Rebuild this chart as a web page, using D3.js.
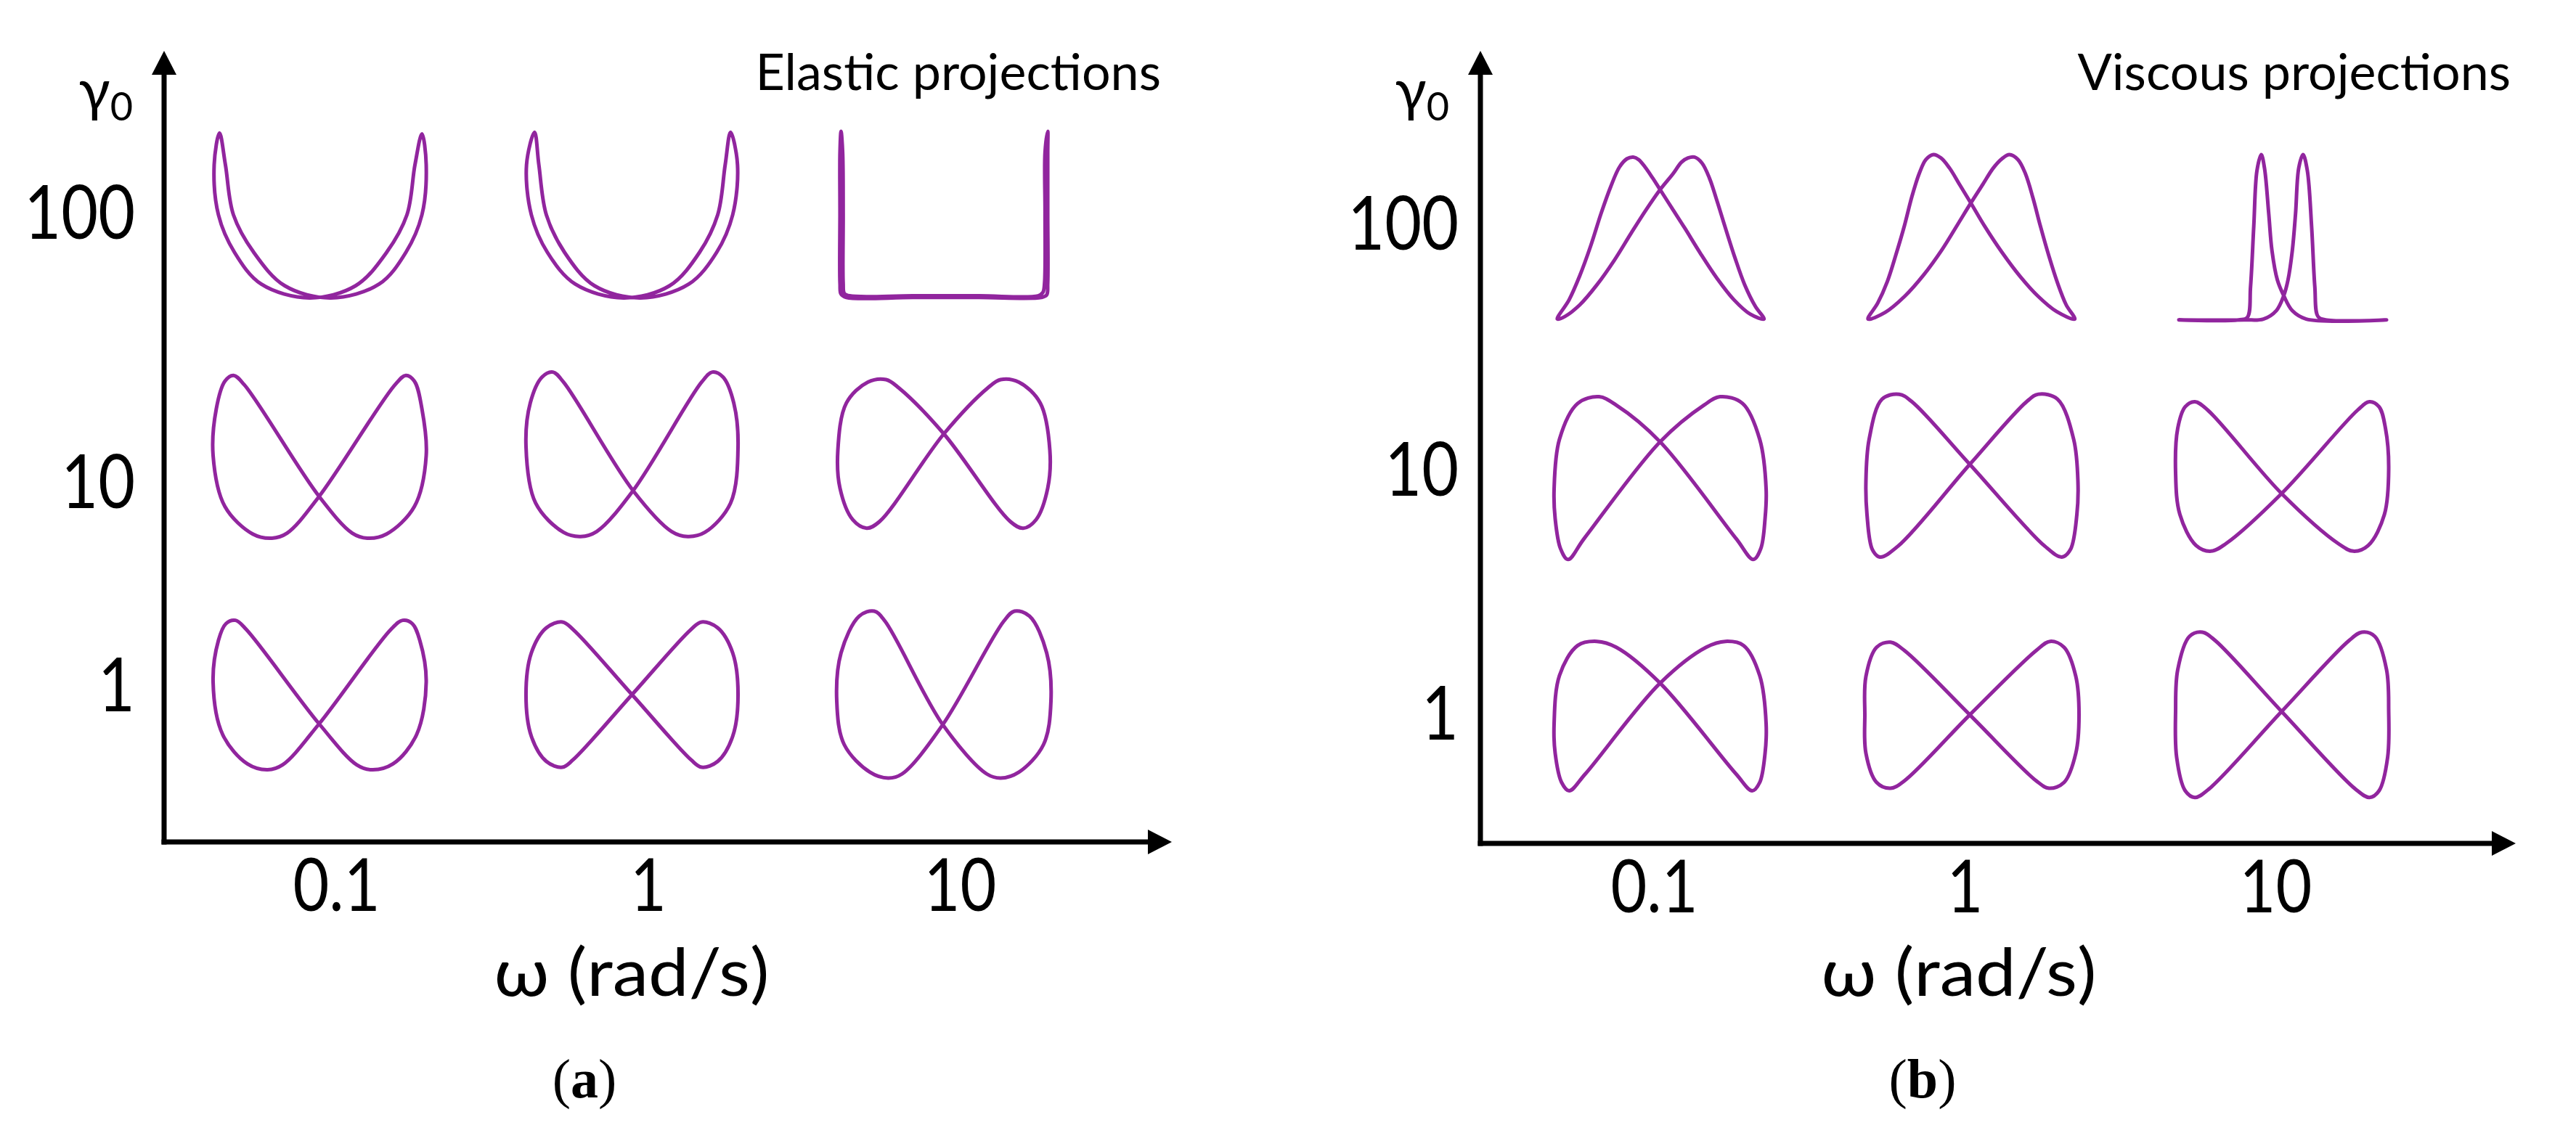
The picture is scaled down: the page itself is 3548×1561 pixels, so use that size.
<!DOCTYPE html>
<html>
<head>
<meta charset="utf-8">
<script src="https://cdn.jsdelivr.net/npm/d3@7"></script>
<style>
  html, body { margin: 0; padding: 0; background: #ffffff; }
  svg { display: block; }
</style>
</head>
<body>
<svg id="chart" width="3548" height="1561"></svg>
<script>
// ---------- categories / tick labels ----------
const omegaCats = ["0.1", "1", "10"];      // ω (rad/s)
const gammaCats = ["100", "10", "1"];      // γ0 (top to bottom)
const panelTitles = ["Elastic projections", "Viscous projections"];
const panelTags = ["a", "b"];
const xAxisTitle = "ω (rad/s)";

// ---------- curve data: normalized strain (x) vs stress (y), each in [-1, 1] ----------
// Elastic projections
const elastic_g100_w01 = [[-0.94,0.98],[-0.99,0.60],[-0.95,0.00],[-0.80,-0.45],[-0.55,-0.83],[-0.10,-0.995],[0.33,-0.85],[0.62,-0.45],[0.81,0.00],[0.885,0.60],[0.95,0.97],[0.99,0.60],[0.95,0.00],[0.80,-0.45],[0.55,-0.83],[0.10,-0.995],[-0.33,-0.85],[-0.62,-0.45],[-0.81,0.00],[-0.885,0.60]];
const elastic_g100_w1 = [[-0.91,0.99],[-0.985,0.60],[-0.94,0.00],[-0.79,-0.45],[-0.53,-0.83],[-0.08,-0.995],[0.35,-0.85],[0.63,-0.45],[0.80,0.00],[0.87,0.60],[0.92,0.99],[0.985,0.60],[0.94,0.00],[0.79,-0.45],[0.53,-0.83],[0.08,-0.995],[-0.35,-0.85],[-0.63,-0.45],[-0.80,0.00],[-0.87,0.60]];
const elastic_g100_w10 = [[-0.96,1.00],[-0.97,0.75],[-0.97,0.02],[-0.97,-0.82],[-0.96,-0.95],[-0.91,-0.99],[-0.29,-0.99],[0.33,-0.99],[0.91,-0.99],[0.96,-0.96],[0.97,-0.82],[0.97,0.02],[0.97,0.75],[0.97,1.00],[0.945,0.75],[0.945,0.02],[0.94,-0.82],[0.925,-0.93],[0.88,-0.97],[0.33,-0.97],[-0.29,-0.97],[-0.88,-0.97],[-0.93,-0.94],[-0.94,-0.82],[-0.94,0.02],[-0.945,0.75]];
const elastic_g10_w01 = [[-0.81,0.95],[-0.71,0.84],[-0.01,-0.50],[0.30,-0.94],[0.44,-1.00],[0.62,-0.95],[0.88,-0.62],[0.99,-0.01],[0.95,0.55],[0.88,0.88],[0.80,0.95],[0.70,0.84],[-0.01,-0.50],[-0.31,-0.94],[-0.45,-1.00],[-0.63,-0.95],[-0.89,-0.62],[-1.00,-0.01],[-0.97,0.55],[-0.89,0.88]];
const elastic_g10_w1 = [[-0.74,0.99],[-0.64,0.87],[0.01,-0.43],[0.37,-0.92],[0.52,-0.98],[0.68,-0.93],[0.92,-0.58],[0.99,0.10],[0.95,0.62],[0.85,0.93],[0.75,0.99],[0.65,0.87],[0.01,-0.43],[-0.33,-0.92],[-0.48,-0.98],[-0.64,-0.93],[-0.90,-0.58],[-0.99,0.10],[-0.95,0.62],[-0.84,0.93]];
const elastic_g10_w10 = [[-0.54,0.90],[-0.42,0.80],[0.00,0.25],[0.62,-0.80],[0.74,-0.88],[0.86,-0.78],[0.97,-0.40],[0.99,0.05],[0.90,0.62],[0.70,0.87],[0.53,0.90],[0.41,0.80],[0.00,0.25],[-0.60,-0.80],[-0.72,-0.88],[-0.85,-0.78],[-0.97,-0.40],[-0.99,0.05],[-0.91,0.62],[-0.71,0.87]];
const elastic_g1_w01 = [[-0.79,0.89],[-0.69,0.78],[-0.01,-0.35],[0.34,-0.84],[0.48,-0.90],[0.68,-0.83],[0.90,-0.48],[0.99,0.15],[0.93,0.65],[0.86,0.85],[0.77,0.89],[0.66,0.78],[-0.01,-0.35],[-0.35,-0.84],[-0.49,-0.90],[-0.68,-0.83],[-0.91,-0.48],[-1.00,0.15],[-0.95,0.65],[-0.88,0.85]];
const elastic_g1_w1 = [[-0.65,0.87],[-0.55,0.78],[0.00,0.00],[0.55,-0.78],[0.65,-0.87],[0.80,-0.80],[0.94,-0.50],[0.99,0.00],[0.94,0.50],[0.80,0.80],[0.65,0.87],[0.55,0.78],[0.00,0.00],[-0.55,-0.78],[-0.65,-0.87],[-0.80,-0.80],[-0.94,-0.50],[-0.99,0.00],[-0.94,0.50],[-0.80,0.80]];
const elastic_g1_w10 = [[-0.65,1.00],[-0.55,0.88],[-0.01,-0.36],[0.40,-0.95],[0.53,-1.00],[0.70,-0.93],[0.93,-0.60],[1.00,-0.08],[0.96,0.50],[0.80,0.94],[0.66,1.00],[0.56,0.88],[-0.01,-0.36],[-0.39,-0.95],[-0.52,-1.00],[-0.69,-0.93],[-0.93,-0.60],[-1.00,-0.08],[-0.96,0.50],[-0.79,0.94]];

// Viscous projections
const viscous_g100_w01 = [[-0.97,-0.97],[-0.86,-0.74],[-0.76,-0.45],[-0.66,-0.10],[-0.56,0.30],[-0.47,0.62],[-0.39,0.85],[-0.32,0.95],[-0.26,0.97],[-0.21,0.94],[-0.15,0.85],[-0.08,0.72],[-0.01,0.58],[0.10,0.36],[0.22,0.12],[0.36,-0.17],[0.52,-0.48],[0.68,-0.74],[0.83,-0.91],[0.96,-0.97],[0.88,-0.82],[0.78,-0.56],[0.69,-0.24],[0.60,0.12],[0.52,0.45],[0.45,0.72],[0.38,0.90],[0.31,0.97],[0.25,0.96],[0.19,0.91],[0.11,0.77],[-0.01,0.58],[-0.14,0.34],[-0.28,0.06],[-0.44,-0.27],[-0.60,-0.56],[-0.76,-0.80],[-0.90,-0.94]];
const viscous_g100_w1 = [[-0.97,-0.97],[-0.88,-0.78],[-0.79,-0.52],[-0.71,-0.20],[-0.63,0.15],[-0.56,0.50],[-0.49,0.78],[-0.43,0.94],[-0.36,1.00],[-0.29,0.96],[-0.21,0.84],[-0.11,0.63],[-0.01,0.42],[0.12,0.14],[0.28,-0.17],[0.45,-0.46],[0.62,-0.70],[0.79,-0.88],[0.96,-0.97],[0.88,-0.80],[0.80,-0.54],[0.72,-0.22],[0.64,0.14],[0.57,0.48],[0.50,0.77],[0.43,0.94],[0.35,1.00],[0.28,0.95],[0.20,0.84],[0.10,0.64],[-0.01,0.42],[-0.13,0.17],[-0.28,-0.14],[-0.45,-0.44],[-0.63,-0.70],[-0.81,-0.89]];
const viscous_g100_w10 = [[-0.97,-0.98],[-0.41,-0.98],[-0.33,-0.95],[-0.30,-0.58],[-0.27,0.14],[-0.24,0.81],[-0.20,1.00],[-0.17,0.84],[-0.13,0.29],[-0.10,-0.15],[-0.05,-0.50],[0.01,-0.69],[0.09,-0.87],[0.22,-0.97],[0.97,-0.98],[0.40,-0.98],[0.33,-0.94],[0.30,-0.58],[0.27,0.14],[0.23,0.81],[0.19,1.00],[0.15,0.84],[0.12,0.29],[0.09,-0.15],[0.05,-0.50],[0.01,-0.69],[-0.06,-0.87],[-0.18,-0.97],[-0.36,-0.98]];
const viscous_g10_w01 = [[-0.58,0.96],[-0.42,0.86],[-0.01,0.42],[0.70,-0.74],[0.86,-0.99],[0.93,-0.86],[0.97,-0.50],[0.98,-0.15],[0.92,0.45],[0.76,0.88],[0.55,0.96],[0.40,0.86],[-0.01,0.42],[-0.72,-0.74],[-0.87,-0.99],[-0.94,-0.86],[-0.99,-0.50],[-1.00,-0.15],[-0.95,0.45],[-0.78,0.88]];
const viscous_g10_w1 = [[-0.68,0.99],[-0.56,0.90],[-0.02,0.15],[0.68,-0.83],[0.84,-0.96],[0.92,-0.87],[0.98,-0.45],[0.99,-0.06],[0.95,0.45],[0.80,0.93],[0.62,0.99],[0.51,0.90],[-0.02,0.15],[-0.69,-0.83],[-0.86,-0.96],[-0.93,-0.87],[-0.98,-0.45],[-0.99,-0.06],[-0.96,0.45],[-0.84,0.93]];
const viscous_g10_w10 = [[-0.82,0.90],[-0.70,0.80],[-0.01,-0.20],[0.52,-0.80],[0.66,-0.89],[0.80,-0.82],[0.95,-0.45],[0.99,0.10],[0.96,0.58],[0.90,0.84],[0.81,0.90],[0.70,0.80],[-0.01,-0.20],[-0.53,-0.80],[-0.67,-0.89],[-0.81,-0.82],[-0.96,-0.45],[-1.00,0.05],[-0.98,0.58],[-0.91,0.84]];
const viscous_g1_w01 = [[-0.60,0.89],[-0.42,0.82],[-0.01,0.39],[0.70,-0.70],[0.85,-0.90],[0.92,-0.80],[0.97,-0.45],[0.98,-0.10],[0.92,0.48],[0.77,0.84],[0.60,0.89],[0.42,0.82],[-0.01,0.39],[-0.71,-0.70],[-0.86,-0.90],[-0.93,-0.80],[-0.99,-0.45],[-1.00,-0.10],[-0.95,0.48],[-0.78,0.84]];
const viscous_g1_w1 = [[-0.76,0.88],[-0.63,0.78],[-0.02,0.01],[0.60,-0.78],[0.72,-0.87],[0.86,-0.80],[0.97,-0.45],[1.00,0.01],[0.97,0.47],[0.86,0.82],[0.73,0.89],[0.60,0.78],[-0.02,0.01],[-0.63,-0.78],[-0.76,-0.87],[-0.89,-0.80],[-0.99,-0.45],[-1.00,0.01],[-0.99,0.47],[-0.89,0.82]];
const viscous_g1_w10 = [[-0.75,1.00],[-0.63,0.90],[-0.01,0.05],[0.68,-0.88],[0.81,-0.98],[0.90,-0.90],[0.98,-0.50],[0.99,0.05],[0.97,0.55],[0.86,0.95],[0.74,1.00],[0.62,0.90],[-0.01,0.05],[-0.69,-0.88],[-0.82,-0.98],[-0.91,-0.90],[-0.99,-0.50],[-1.00,0.05],[-0.98,0.55],[-0.87,0.95]];

// tables built from the arrays above
const elasticCurves = {
  "100": {"0.1": elastic_g100_w01, "1": elastic_g100_w1, "10": elastic_g100_w10},
  "10":  {"0.1": elastic_g10_w01,  "1": elastic_g10_w1,  "10": elastic_g10_w10},
  "1":   {"0.1": elastic_g1_w01,   "1": elastic_g1_w1,   "10": elastic_g1_w10}
};
const viscousCurves = {
  "100": {"0.1": viscous_g100_w01, "1": viscous_g100_w1, "10": viscous_g100_w10},
  "10":  {"0.1": viscous_g10_w01,  "1": viscous_g10_w1,  "10": viscous_g10_w10},
  "1":   {"0.1": viscous_g1_w01,   "1": viscous_g1_w1,   "10": viscous_g1_w10}
};

// ---------- layout / style ----------
const curveColor = "#91259e";
const textFont = "Lato, 'Open Sans', sans-serif";
const squeeze = 0.86;  // horizontal compression of the geometric sans labels
const panels = [
  { curves: elasticCurves, title: panelTitles[0], tag: panelTags[0],
    axisX: 226, axisY: 1160, top: 70, right: 1614,
    colRange: [441, 1300], rowRange: [296, 957],
    titleEnd: 1599, xTitleX: 870, tagX: 805, xTickShift: 22, yPad: 40,
    yNudge: {"100": 0, "10": 40, "1": -10} },
  { curves: viscousCurves, title: panelTitles[1], tag: panelTags[1],
    axisX: 2039, axisY: 1162, top: 70, right: 3465,
    colRange: [2288, 3144], rowRange: [328, 986],
    titleEnd: 3458, xTitleX: 2698, tagX: 2648, xTickShift: -10, yPad: 30,
    yNudge: {"100": -17, "10": -7, "1": 0} }
];

const svg = d3.select("#chart");
svg.append("rect").attr("width", 3548).attr("height", 1561).attr("fill", "#ffffff");

function squeezeText(sel, f) {
  sel.each(function () {
    const len = this.getComputedTextLength();
    d3.select(this).attr("textLength", len * f).attr("lengthAdjust", "spacingAndGlyphs");
  });
}

// local scales inside each cell
const lx = d3.scaleLinear().domain([-1, 1]).range([-147.5, 147.5]);
const ly = d3.scaleLinear().domain([-1, 1]).range([115, -115]);
const loop = d3.line()
  .x(d => lx(d[0]))
  .y(d => ly(d[1]))
  .curve(d3.curveCatmullRomClosed.alpha(0.5));

panels.forEach(p => {
  const g = svg.append("g");
  const xC = d3.scalePoint().domain(omegaCats).range(p.colRange);
  const yC = d3.scalePoint().domain(gammaCats).range(p.rowRange);

  // curves
  gammaCats.forEach(gc => {
    omegaCats.forEach(oc => {
      g.append("path")
        .attr("transform", `translate(${xC(oc)},${yC(gc)})`)
        .attr("d", loop(p.curves[gc][oc]))
        .attr("fill", "none")
        .attr("stroke", curveColor)
        .attr("stroke-width", 5)
        .attr("stroke-linejoin", "round");
    });
  });

  // axis lines with arrowheads
  const aw = 7;
  g.append("line")
    .attr("x1", p.axisX).attr("y1", p.axisY + aw / 2)
    .attr("x2", p.axisX).attr("y2", p.top + 28)
    .attr("stroke", "#000").attr("stroke-width", aw);
  g.append("path")
    .attr("d", `M${p.axisX},${p.top} L${p.axisX - 17},${p.top + 33} L${p.axisX + 17},${p.top + 33} Z`)
    .attr("fill", "#000");
  g.append("line")
    .attr("x1", p.axisX - aw / 2).attr("y1", p.axisY)
    .attr("x2", p.right - 28).attr("y2", p.axisY)
    .attr("stroke", "#000").attr("stroke-width", aw);
  g.append("path")
    .attr("d", `M${p.right},${p.axisY} L${p.right - 33},${p.axisY - 17} L${p.right - 33},${p.axisY + 17} Z`)
    .attr("fill", "#000");

  // x tick labels via d3 axis
  const xAx = g.append("g")
    .attr("transform", `translate(${p.xTickShift},${p.axisY})`)
    .call(d3.axisBottom(xC).tickSize(0).tickPadding(24));
  xAx.select(".domain").remove();
  xAx.selectAll("text")
    .attr("font-family", textFont).attr("font-size", 100).attr("fill", "#000")
    .call(squeezeText, squeeze);

  // y tick labels via d3 axis
  const yAx = g.append("g")
    .attr("transform", `translate(${p.axisX},0)`)
    .call(d3.axisLeft(yC).tickSize(0).tickPadding(p.yPad));
  yAx.select(".domain").remove();
  yAx.selectAll("text")
    .attr("font-family", textFont).attr("font-size", 102).attr("fill", "#000")
    .attr("y", d => p.yNudge[d])
    .call(squeezeText, squeeze);

  // γ0 label
  const gl = g.append("text")
    .attr("x", p.axisX - 43).attr("y", 152)
    .attr("text-anchor", "end")
    .attr("font-family", textFont).attr("fill", "#000");
  gl.append("tspan").attr("font-size", 80).text("γ");
  gl.append("tspan").attr("font-size", 54).attr("dy", 14).text("0");

  // panel title
  g.append("text")
    .attr("x", p.titleEnd).attr("y", 124)
    .attr("text-anchor", "end")
    .attr("font-family", textFont).attr("font-size", 70).attr("fill", "#000")
    .text(p.title);

  // x axis title
  g.append("text")
    .attr("x", p.xTitleX).attr("y", 1372)
    .attr("text-anchor", "middle")
    .attr("font-family", textFont).attr("font-size", 92).attr("fill", "#000")
    .text(xAxisTitle)
    .call(squeezeText, 1.08);

  // panel tag (a)/(b)
  const tg = g.append("text")
    .attr("x", p.tagX).attr("y", 1512)
    .attr("text-anchor", "middle")
    .attr("font-family", "'Liberation Serif', 'DejaVu Serif', serif")
    .attr("font-size", 76).attr("fill", "#000");
  tg.append("tspan").text("(");
  tg.append("tspan").attr("font-weight", "bold").text(p.tag);
  tg.append("tspan").text(")");
});
</script>
</body>
</html>
